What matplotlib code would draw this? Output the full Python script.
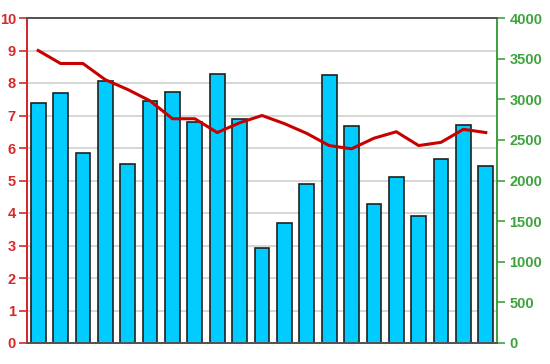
import matplotlib
matplotlib.use("Agg")
import matplotlib.pyplot as plt
import numpy as np

# data
bar_values = [7.37, 7.7, 5.85, 8.05, 5.5, 7.45, 7.73, 6.8, 8.28, 6.9, 2.93,
              3.7, 4.9, 8.25, 6.67, 4.27, 5.1, 3.9, 5.67, 6.7, 5.45]
line_values = [3600, 3440, 3440, 3240, 3120, 2980, 2760, 2760, 2590, 2710, 2800,
               2700, 2580, 2430, 2390, 2520, 2600, 2430, 2470, 2630, 2590]
left_ticks = list(range(0, 11))
right_ticks = list(range(0, 4001, 500))

red = "#d42a2a"
green = "#3ea33e"

plt.rcParams["font.family"] = ["Liberation Sans", "DejaVu Sans"]

fig = plt.figure(figsize=(5.5, 3.64), dpi=100)
ax = fig.add_axes([27 / 550, 1 - 343 / 364, 470 / 550, 325 / 364])
ax2 = ax.twinx()

x = np.arange(len(bar_values))
ax.bar(x, bar_values, width=0.66, color="#00ccff", edgecolor="#202020", linewidth=1.2, zorder=3)
ax.set_xlim(-0.5, len(bar_values) - 0.5)
ax.set_ylim(0, 10)
ax.set_yticks(left_ticks)
ax.set_xticks([])
ax.grid(axis="y", color="#d0d0d0", linewidth=1.2, zorder=0)
ax.set_axisbelow(True)

ax2.plot(x, line_values, color="#c80000", linewidth=2.2, zorder=4)
ax2.set_ylim(0, 4000)
ax2.set_yticks(right_ticks)

ax.tick_params(axis="y", colors=red, labelsize=10.5, length=6, width=1.2, pad=2)
ax2.tick_params(axis="y", colors=green, labelsize=10.5, length=6, width=1.2, pad=3)
for lab in ax.get_yticklabels():
    lab.set_fontweight("bold")
for lab in ax2.get_yticklabels():
    lab.set_fontweight("bold")

for a in (ax, ax2):
    a.spines["top"].set_color("#555555")
    a.spines["bottom"].set_color("#555555")
    a.spines["left"].set_color(red)
    a.spines["right"].set_color(green)
    for s in a.spines.values():
        s.set_linewidth(1.4)

plt.savefig("out.png", dpi=100)
